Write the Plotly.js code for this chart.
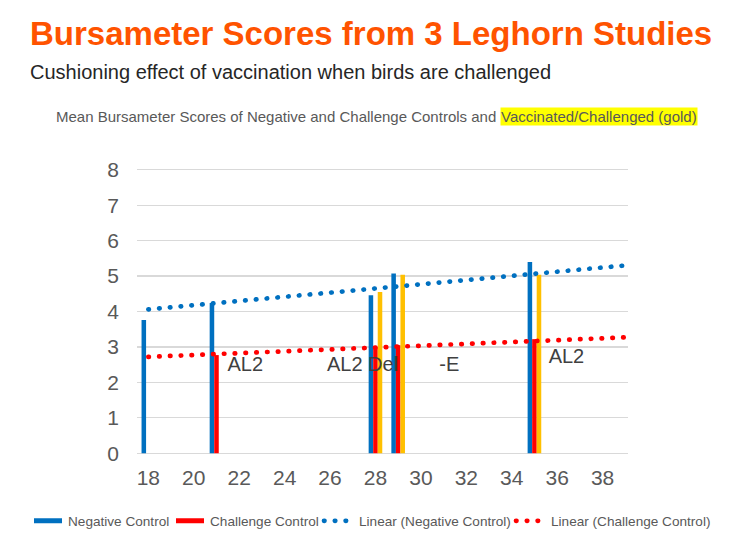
<!DOCTYPE html>
<html>
<head>
<meta charset="utf-8">
<script src="https://cdn.plot.ly/plotly-3.0.1.min.js"></script>
<style>
  html, body { margin: 0; padding: 0; background: #fff; }
  #chart { width: 738px; height: 546px; }
  path.js-line { stroke-linecap: round !important; }
</style>
</head>
<body>
<div id="chart"></div>
<script>
// ---- data ----
const ages = [18, 21, 28, 29, 35];               // bird age (x)
const negativeControl = [3.76, 4.24, 4.46, 5.07, 5.40];
const challengeX = [21, 28, 29, 35];
const challengeControl = [2.77, 2.99, 3.05, 3.22];
const vaccinatedX = [28, 29, 35];
const vaccinatedChallenged = [4.55, 5.04, 5.04];
const trendX = [18, 39];
const trendNegative = [4.06, 5.30];
const trendChallenge = [2.72, 3.27];
const labelText = ['AL2', 'AL2 Del', '-E', 'AL2'];
const labelX = [22.27, 27.43, 31.25, 36.41];
const labelY = [2.47, 2.47, 2.47, 2.69];

const FONT = 'Liberation Sans, Arial, Helvetica, sans-serif';
const BLUE = '#0070C0', RED = '#FF0000', GOLD = '#FFC000';
const XR = [17.5, 39.12], YR = [-0.05, 8.05];

const traces = [
  { type: 'bar', name: 'Negative Control', x: ages, y: negativeControl,
    width: 0.2, offset: -0.3, marker: { color: BLUE }, legend: 'legend' },
  { type: 'bar', name: 'Challenge Control', x: challengeX, y: challengeControl,
    width: 0.2, offset: -0.1, marker: { color: RED }, legend: 'legend2' },
  { type: 'bar', name: 'Vaccinated/Challenged', x: vaccinatedX, y: vaccinatedChallenged,
    width: 0.2, offset: 0.1, marker: { color: GOLD }, showlegend: false },
  { type: 'scatter', mode: 'lines', name: 'Linear (Negative Control)', x: trendX, y: trendNegative,
    line: { color: BLUE, width: 4.7, dash: '0.5px,10.3px' }, legend: 'legend3' },
  { type: 'scatter', mode: 'lines', name: 'Linear (Challenge Control)', x: trendX, y: trendChallenge,
    line: { color: RED, width: 4.7, dash: '0.5px,10.3px' }, legend: 'legend4' },
  { type: 'scatter', mode: 'text', x: labelX, y: labelY, text: labelText,
    textfont: { family: FONT, size: 20, color: '#404040' },
    textposition: 'middle center', showlegend: false, hoverinfo: 'skip' }
];

const M = { l: 137, r: 110, t: 168, b: 91 };
const PW = 738 - M.l - M.r, PH = 546 - M.t - M.b;
const px = v => (v - M.l) / PW;             // pixel -> paper x
const py = v => (546 - M.b - v) / PH;       // pixel -> paper y

const legendAt = x => ({
  orientation: 'h', xref: 'container', yref: 'container',
  x: x / 738, xanchor: 'left', y: 25 / 546, yanchor: 'middle',
  font: { family: FONT, size: 13.6, color: '#595959' },
  itemwidth: 30, bgcolor: 'rgba(0,0,0,0)', traceorder: 'normal'
});

const layout = {
  width: 738, height: 546,
  paper_bgcolor: '#ffffff', plot_bgcolor: '#ffffff',
  margin: { l: M.l, r: M.r, t: M.t, b: M.b, pad: 0 },
  font: { family: FONT, color: '#595959' },
  barmode: 'overlay',
  showlegend: true,
  title: {
    text: '<b>Bursameter Scores from 3 Leghorn Studies</b>',
    font: { family: FONT, size: 33, color: '#FF5300' },
    xref: 'container', x: 30 / 738, xanchor: 'left',
    yref: 'container', y: 1 - 33.5 / 546, yanchor: 'middle'
  },
  xaxis: {
    range: XR, tick0: 18, dtick: 2, showgrid: false, zeroline: false,
    showline: false, ticks: '', ticklabelstandoff: 8,
    tickfont: { family: FONT, size: 21, color: '#595959' }, fixedrange: true
  },
  yaxis: {
    range: YR, tick0: 0, dtick: 1, showgrid: true, gridcolor: '#D9D9D9', gridwidth: 1.3,
    zeroline: false, showline: false, ticks: '', ticklabelstandoff: 17,
    tickfont: { family: FONT, size: 21, color: '#595959' }, fixedrange: true
  },
  legend: legendAt(28),
  legend2: legendAt(170),
  legend3: legendAt(319),
  legend4: legendAt(511),
  annotations: [
    { text: 'Cushioning effect of vaccination when birds are challenged',
      xref: 'paper', yref: 'paper', x: px(28), y: py(72.5), xanchor: 'left', yanchor: 'middle',
      showarrow: false, font: { family: FONT, size: 20, color: '#262626' } },
    { text: 'Mean Bursameter Scores of Negative and Challenge Controls and',
      xref: 'paper', yref: 'paper', x: px(498), y: py(117), xanchor: 'right', yanchor: 'middle',
      showarrow: false, font: { family: FONT, size: 15, color: '#595959' } },
    { text: 'Vaccinated/Challenged (gold)',
      xref: 'paper', yref: 'paper', x: px(500), y: py(117), xanchor: 'left', yanchor: 'middle',
      showarrow: false, bgcolor: '#FFFF00', borderpad: 0,
      font: { family: FONT, size: 15, color: '#595959' } }
  ]
};

Plotly.newPlot('chart', traces, layout, { displayModeBar: false, staticPlot: true }).then(gd => {
  gd.querySelectorAll('.legendpoints path.js-line').forEach(p => {
    p.style.strokeDasharray = '0.5px,7px';
    p.style.strokeWidth = '3.5px';
  });
  gd.querySelectorAll('.legendpoints path').forEach(p => {
    const d = (p.getAttribute('d') || '').replace(/\s/g, '');
    if (d.indexOf('M6,6H-6V-6H6Z') === 0) p.setAttribute('d', 'M14,2.5H-14V-2.5H14Z');
  });
});
</script>
</body>
</html>
